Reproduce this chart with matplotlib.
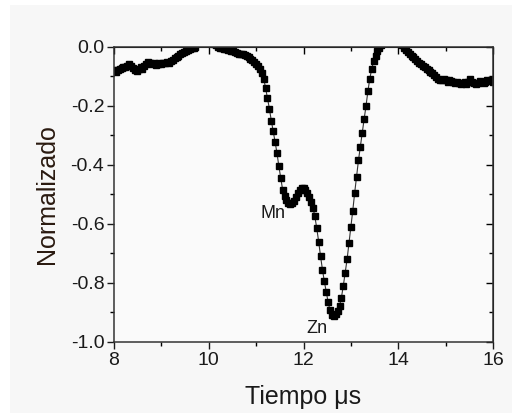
import numpy as np
import matplotlib
matplotlib.use("Agg")
import matplotlib.pyplot as plt
from matplotlib.patches import Rectangle
from matplotlib.ticker import MultipleLocator

plt.rcParams['font.family'] = ['Liberation Sans', 'DejaVu Sans']

t_start = 8.0
t_step = 0.04
signal = [
    # 8.00 - 9.96
    -0.080, -0.085, -0.078, -0.075, -0.072, -0.068, -0.070, -0.064, -0.060, -0.066,
    -0.072, -0.080, -0.082, -0.076, -0.070, -0.074, -0.066, -0.058, -0.052, -0.054,
    -0.060, -0.056, -0.062, -0.058, -0.055, -0.058, -0.054, -0.056, -0.052, -0.054,
    -0.050, -0.046, -0.038, -0.034, -0.030, -0.026, -0.022, -0.018, -0.014, -0.010,
    -0.008, -0.005, -0.003, -0.001, 0.012, 0.015, 0.016, 0.015, 0.016, 0.015,
    # 10.00 - 11.96
    0.016, 0.015, 0.012, 0.008, 0.005, -0.002, -0.004, -0.006, -0.008, -0.008,
    -0.010, -0.012, -0.014, -0.016, -0.018, -0.022, -0.024, -0.026, -0.024, -0.028,
    -0.032, -0.036, -0.040, -0.046, -0.052, -0.058, -0.066, -0.075, -0.088, -0.108,
    -0.140, -0.175, -0.210, -0.250, -0.285, -0.322, -0.360, -0.405, -0.445, -0.485,
    -0.505, -0.520, -0.528, -0.532, -0.530, -0.522, -0.508, -0.496, -0.485, -0.480,
    # 12.00 - 13.96
    -0.480, -0.486, -0.495, -0.510, -0.525, -0.545, -0.575, -0.615, -0.660, -0.710,
    -0.755, -0.795, -0.830, -0.865, -0.893, -0.908, -0.912, -0.905, -0.895, -0.878,
    -0.850, -0.810, -0.765, -0.720, -0.665, -0.610, -0.555, -0.495, -0.440, -0.385,
    -0.338, -0.292, -0.245, -0.200, -0.150, -0.108, -0.075, -0.050, -0.032, -0.015,
    -0.006, 0.005, 0.015, 0.016, 0.015, 0.016, 0.015, 0.016, 0.015, 0.016,
    # 14.00 - 16.00
    0.015, 0.012, 0.006, -0.004, -0.012, -0.018, -0.024, -0.030, -0.036, -0.042,
    -0.048, -0.054, -0.060, -0.064, -0.068, -0.074, -0.078, -0.084, -0.090, -0.096,
    -0.102, -0.108, -0.112, -0.114, -0.110, -0.114, -0.118, -0.112, -0.116, -0.120,
    -0.122, -0.118, -0.124, -0.126, -0.122, -0.120, -0.126, -0.118, -0.110, -0.118,
    -0.124, -0.128, -0.122, -0.116, -0.120, -0.124, -0.118, -0.114, -0.116, -0.112,
    -0.120,
]
time = t_start + t_step * np.arange(len(signal))

annotations = [("Mn", 11.35, -0.565), ("Zn", 12.28, -0.955)]
x_ticks = [8, 10, 12, 14, 16]
y_ticks = [0.0, -0.2, -0.4, -0.6, -0.8, -1.0]

fig = plt.figure(figsize=(5.12, 4.13), dpi=100, facecolor='white')
fig.patches.append(Rectangle((10/512, 0), 1, 1 - 5/413, transform=fig.transFigure,
                             facecolor='#f7f7f7', edgecolor='none', zorder=-10))
ax = fig.add_axes([114/512, 1 - 342/413, (493-114)/512, (342-46.7)/413])
ax.set_facecolor('#fafafa')

ax.plot(time, signal, color='#333333', lw=0.8, marker='s', ms=4.8,
        mfc='black', mec='black', clip_on=True)

ax.set_xlim(8, 16)
ax.set_ylim(-1.0, 0.0)
ax.set_xticks(x_ticks)
ax.set_yticks(y_ticks)
ax.set_yticklabels([f"{v:.1f}" for v in y_ticks])
ax.xaxis.set_minor_locator(MultipleLocator(1))
ax.yaxis.set_minor_locator(MultipleLocator(0.1))
ax.tick_params(which='major', direction='out', length=5, width=1.0, labelsize=14,
               colors='#1a1a1a', pad=2)
ax.tick_params(which='minor', direction='out', length=3, width=1.0)

for s in ax.spines.values():
    s.set_linewidth(1.1)
    s.set_color('#333333')

secx = ax.secondary_xaxis('top')
secx.set_xticks(x_ticks)
secx.xaxis.set_minor_locator(MultipleLocator(1))
secx.tick_params(which='major', direction='in', length=5, width=1.0, labeltop=False)
secx.tick_params(which='minor', direction='in', length=3, width=1.0)
secy = ax.secondary_yaxis('right')
secy.set_yticks(y_ticks)
secy.yaxis.set_minor_locator(MultipleLocator(0.1))
secy.tick_params(which='major', direction='in', length=5, width=1.0, labelright=False)
secy.tick_params(which='minor', direction='in', length=3, width=1.0)

ax.set_xlabel("Tiempo μs", fontsize=18, color='#1a1a1a', labelpad=12)
ax.set_ylabel("Normalizado", fontsize=18, color='#2a1a10', labelpad=8)

for label, x, y in annotations:
    ax.text(x, y, label, fontsize=13, ha='center', va='center', color='#1a1a1a')

fig.savefig("out.png", dpi=100, facecolor=fig.get_facecolor())
